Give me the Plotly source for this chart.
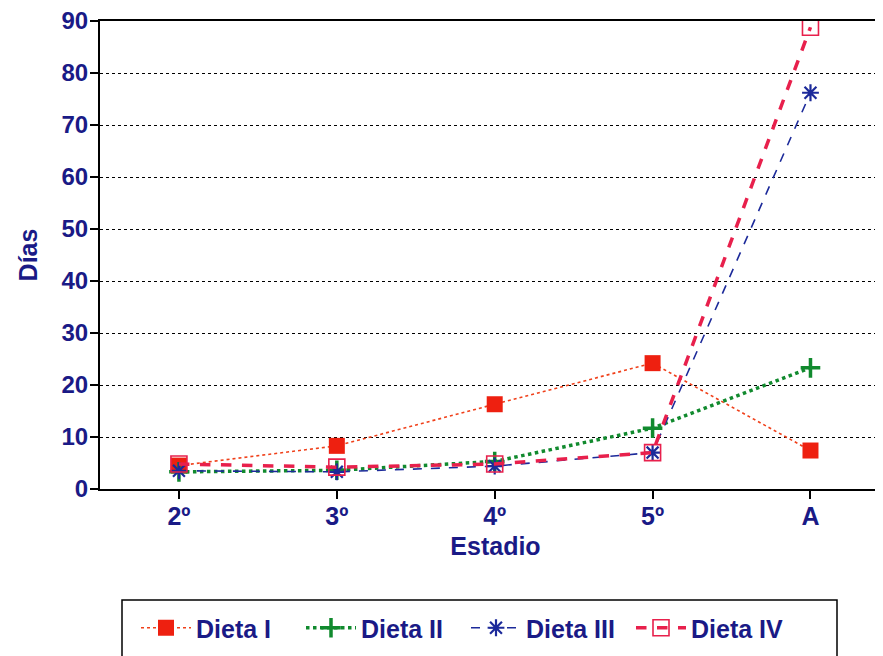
import plotly.graph_objects as go

estadios = ["2º", "3º", "4º", "5º", "A"]
dieta_i = [4.5, 8.3, 16.3, 24.2, 7.4]
dieta_ii = [3.3, 3.6, 5.3, 11.7, 23.3]
dieta_iii = [3.5, 3.3, 4.4, 7.0, 76.2]
dieta_iv = [4.8, 4.2, 4.8, 7.0, 88.8]
y_ticks = [0, 10, 20, 30, 40, 50, 60, 70, 80, 90]

NAVY = "#1a1a86"
FONT = "Liberation Sans"
FS = 25
OFF = 8  # page body margin offset

# target screen geometry of the plot area
L, T, B = 100 - OFF, 21 - OFF, 489 - OFF
W = 883 - L
H = B - T

fig = go.Figure()
fig.add_trace(go.Scatter(x=estadios, y=dieta_i, name="Dieta I", mode="lines+markers",
                         line=dict(color="#f0401a", width=1.6, dash="dot"),
                         marker=dict(symbol="square", size=16, color="#ee2010")))
fig.add_trace(go.Scatter(x=estadios, y=dieta_ii, name="Dieta II", mode="lines+markers",
                         line=dict(color="#118a2e", width=3.5, dash="dot"),
                         marker=dict(symbol="cross-thin", size=14, line=dict(color="#118a2e", width=3.5))))
fig.add_trace(go.Scatter(x=estadios, y=dieta_iii, name="Dieta III", mode="lines+markers",
                         line=dict(color="#1c2a9a", width=1.6, dash="dash"),
                         marker=dict(symbol="asterisk-open", size=14, line=dict(color="#1c2a9a", width=2.2))))
fig.add_trace(go.Scatter(x=estadios, y=dieta_iv, name="Dieta IV", mode="lines+markers",
                         line=dict(color="#e8204c", width=3.5, dash="dash"),
                         marker=dict(symbol="square-open", size=16, line=dict(color="#e8204c", width=1.6))))

fig.update_layout(
    width=883, height=656,
    margin=dict(l=L, r=0, t=T, b=656 - B, autoexpand=False),
    plot_bgcolor="white", paper_bgcolor="white",
    font=dict(family=FONT, color=NAVY, size=FS),
    showlegend=True,
    legend=dict(orientation="h", x=(136 - 100) / W, xanchor="left",
                y=(489 - 628) / H, yanchor="middle",
                font=dict(family=FONT, size=FS, color=NAVY, weight="bold"),
                bgcolor="rgba(0,0,0,0)", borderwidth=0, itemwidth=50,
                entrywidth=100, entrywidthmode="pixels"),
    xaxis=dict(type="category", range=[-0.5, 4.51], showgrid=False, automargin=False,
               showline=True, mirror=True, linecolor="black", linewidth=2,
               ticks="outside", ticklen=8, tickcolor="black", tickwidth=1.5,
               ticklabelstandoff=-4,
               tickfont=dict(family=FONT, size=FS, color=NAVY, weight="bold"),
               title=dict(text="Estadio", font=dict(family=FONT, size=FS, color=NAVY, weight="bold"), standoff=8)),
    yaxis=dict(range=[0, 90], tickvals=y_ticks, showgrid=True, gridcolor="black",
               griddash="dot", gridwidth=1.2, zeroline=False, automargin=False,
               showline=True, linecolor="black", linewidth=2,
               ticks="outside", ticklen=8, tickcolor="black", tickwidth=1.5,
               ticklabelstandoff=-3, ticklabeloverflow="allow",
               tickfont=dict(family=FONT, size=24, color=NAVY, weight="bold"),
               title=dict(text="Días", font=dict(family=FONT, size=FS, color=NAVY, weight="bold"), standoff=17)),
)
# legend box
fig.add_shape(type="rect", xref="paper", yref="paper",
              x0=(122 - 100) / W, x1=(837 - 100) / W,
              y0=(489 - 600) / H, y1=(489 - 670) / H,
              line=dict(color="black", width=1.5))

fig.write_html("out.html")
